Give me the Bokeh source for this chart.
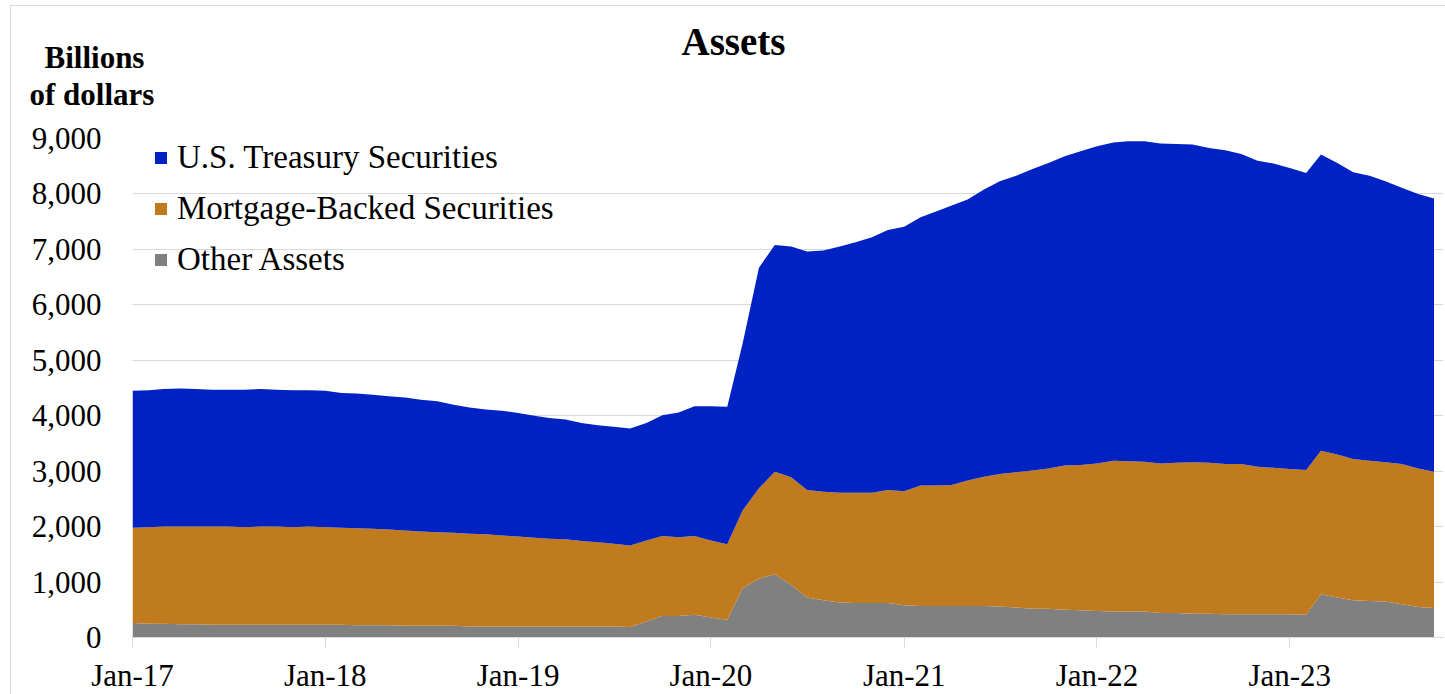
import pandas as pd
from bokeh.plotting import figure
from bokeh.models import (ColumnDataSource, Range1d, FixedTicker, NumeralTickFormatter,
                          DatetimeTickFormatter, Legend, LegendItem, Title)
from bokeh.embed import file_html
from bokeh.resources import INLINE

# ---------------- data (billions of dollars, monthly Jan-17 .. Oct-23) ----------------
start_month = "2017-01-01"
end_month = "2023-10-01"

other_assets = [260, 250, 250, 240, 240, 230, 230, 230, 230, 230, 230, 230,
                230, 230, 220, 220, 220, 210, 210, 210, 210, 200, 200, 200,
                200, 200, 200, 200, 200, 200, 200, 190, 290, 390, 390, 410,
                360, 320, 890, 1060, 1140, 950, 720, 670, 630, 620, 620, 620,
                580, 570, 570, 570, 570, 570, 560, 540, 520, 520, 500, 490,
                480, 470, 470, 470, 440, 440, 430, 430, 420, 420, 420, 420,
                420, 410, 780, 720, 670, 660, 650, 600, 550, 530]

mbs = [1720, 1740, 1750, 1760, 1760, 1770, 1770, 1760, 1770, 1770, 1760, 1770,
       1760, 1750, 1750, 1740, 1730, 1720, 1700, 1690, 1680, 1670, 1660, 1640,
       1620, 1600, 1580, 1570, 1540, 1520, 1490, 1470, 1460, 1440, 1420, 1420,
       1390, 1360, 1400, 1630, 1850, 1940, 1940, 1960, 1980, 1990, 1990, 2040,
       2060, 2170, 2170, 2180, 2260, 2330, 2390, 2440, 2490, 2530, 2600, 2620,
       2660, 2720, 2710, 2700, 2700, 2710, 2730, 2720, 2710, 2710, 2660, 2640,
       2620, 2610, 2590, 2580, 2550, 2530, 2510, 2530, 2500, 2460]

treasury = [2470, 2470, 2480, 2490, 2480, 2470, 2470, 2480, 2480, 2470, 2470, 2460,
            2460, 2430, 2430, 2420, 2400, 2400, 2380, 2360, 2310, 2280, 2250, 2250,
            2230, 2200, 2180, 2160, 2130, 2110, 2110, 2110, 2120, 2180, 2250, 2340,
            2420, 2480, 3010, 3980, 4090, 4160, 4300, 4350, 4440, 4520, 4610, 4690,
            4770, 4840, 4940, 5040, 5070, 5180, 5280, 5350, 5440, 5510, 5580, 5660,
            5720, 5740, 5770, 5780, 5770, 5750, 5730, 5680, 5660, 5590, 5520, 5490,
            5430, 5360, 5340, 5260, 5170, 5140, 5070, 4980, 4950, 4930]

series_names = ["U.S. Treasury Securities", "Mortgage-Backed Securities", "Other Assets"]
tick_years = [2017, 2018, 2019, 2020, 2021, 2022, 2023]
y_ticks = [0, 1000, 2000, 3000, 4000, 5000, 6000, 7000, 8000, 9000]

dates = pd.date_range(start_month, end_month, freq="MS")
source = ColumnDataSource(dict(date=dates, other=other_assets, mbs=mbs, treasury=treasury))

BLUE = "#0022C2"
ORANGE = "#C07B1E"
GRAY = "#808080"
GRID = "#D9D9D9"
FONT = "Liberation Serif"

p = figure(width=1435, height=689, output_backend="svg", toolbar_location=None,
           title=None, x_axis_type="datetime",
           x_range=Range1d(pd.Timestamp(start_month), pd.Timestamp("2023-10-19")),
           y_range=Range1d(0, 9000),
           min_border_left=121, min_border_right=3, min_border_top=132, min_border_bottom=58)
p.margin = (5, 0, 0, 10)
p.styles = {"border-top": "1px solid #D9D9D9", "border-left": "1px solid #D9D9D9"}
p.outline_line_color = None
p.background_fill_color = "white"
p.border_fill_color = "white"

renderers = p.varea_stack(stackers=["other", "mbs", "treasury"], x="date",
                          color=[GRAY, ORANGE, BLUE], source=source)
r_other, r_mbs, r_tsy = renderers

# axes
p.xgrid.grid_line_color = None
p.ygrid.grid_line_color = GRID
p.ygrid.grid_line_width = 1
p.yaxis.ticker = FixedTicker(ticks=y_ticks)
p.yaxis.formatter = NumeralTickFormatter(format="0,0")
p.yaxis.axis_line_color = None
p.yaxis.major_tick_line_color = None
p.yaxis.minor_tick_line_color = None
p.yaxis.major_label_standoff = 25
p.yaxis.major_label_text_font = FONT
p.yaxis.major_label_text_font_size = "31px"
p.yaxis.major_label_text_color = "black"

year_ticks = [pd.Timestamp(f"{y}-01-01").timestamp() * 1000 for y in tick_years]
p.xaxis.ticker = FixedTicker(ticks=year_ticks)
fmt = "%b-%y"
p.xaxis.formatter = DatetimeTickFormatter(days=fmt, months=fmt, years=fmt, hours=fmt,
                                          minutes=fmt, seconds=fmt, milliseconds=fmt,
                                          microseconds=fmt, minsec=fmt, hourmin=fmt)
p.xaxis.axis_line_color = GRID
p.xaxis.major_tick_line_color = GRID
p.xaxis.major_tick_in = 0
p.xaxis.major_tick_out = 10
p.xaxis.minor_tick_line_color = None
p.xaxis.major_label_standoff = 10
p.xaxis.major_label_text_font = FONT
p.xaxis.major_label_text_font_size = "31px"
p.xaxis.major_label_text_color = "black"

# legend
legend = Legend(items=[LegendItem(label=series_names[0], renderers=[r_tsy]),
                       LegendItem(label=series_names[1], renderers=[r_mbs]),
                       LegendItem(label=series_names[2], renderers=[r_other])],
                location=(21, 359), orientation="vertical")
legend.background_fill_alpha = 0
legend.border_line_color = None
legend.padding = 0
legend.margin = 0
legend.spacing = 13
legend.glyph_width = 15
legend.glyph_height = 15
legend.label_height = 38
legend.label_standoff = 9
legend.label_text_font = FONT
legend.label_text_font_size = "33px"
legend.label_text_color = "black"
p.add_layout(legend, "center")

# titles, stacked outward from the frame
p.add_layout(Title(text=" ", align="left", standoff=-10,
                   text_font=FONT, text_font_size="31px"), "above")
p.add_layout(Title(text="of dollars", align="left", offset=-103, standoff=0,
                   text_color="black", text_font=FONT, text_font_style="bold",
                   text_font_size="31px"), "above")
p.add_layout(Title(text="Billions", align="left", offset=-88, standoff=0,
                   text_color="black", text_font=FONT, text_font_style="bold",
                   text_font_size="31px"), "above")
p.add_layout(Title(text="Assets", align="left", offset=549, standoff=-50,
                   text_color="black", text_font=FONT, text_font_style="bold",
                   text_font_size="39px"), "above")

open("out.html", "w").write(file_html(p, INLINE))
